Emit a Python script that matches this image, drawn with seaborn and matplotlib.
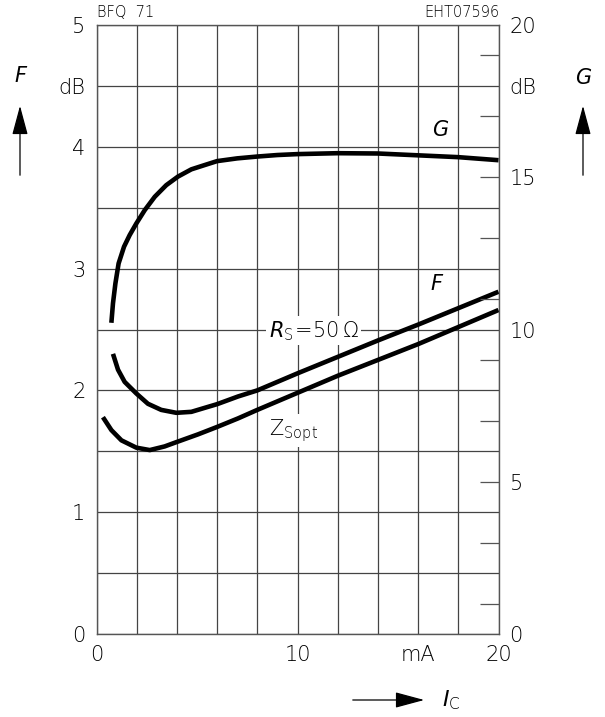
import numpy as np
import pandas as pd
import matplotlib
matplotlib.use('Agg')
import matplotlib.pyplot as plt
from matplotlib.patches import FancyArrowPatch
import seaborn as sns

# Values (BFQ 71)
ic_g = [0.74, 0.82, 0.94, 1.10, 1.37, 1.65, 1.98, 2.40, 2.90, 3.47, 4.05, 4.72, 5.38,
        6.0, 7.0, 8.0, 9.0, 10.0, 12.0, 14.0, 16.0, 18.0, 20.0]
gain = [10.22, 10.86, 11.51, 12.17, 12.72, 13.1, 13.48, 13.92, 14.36, 14.74, 15.02, 15.26, 15.40,
        15.53, 15.62, 15.68, 15.73, 15.76, 15.79, 15.78, 15.72, 15.66, 15.56]

ic_rs = [0.82, 1.07, 1.40, 1.98, 2.56, 3.22, 3.97, 4.72, 5.55, 6.0, 7.04, 8.0, 10.0,
         12.0, 14.0, 16.0, 18.0, 20.0]
nf_rs = [2.30, 2.17, 2.07, 1.975, 1.89, 1.84, 1.816, 1.824, 1.865, 1.887, 1.95, 2.0, 2.14,
         2.275, 2.41, 2.54, 2.675, 2.81]

ic_zs = [0.32, 0.74, 1.24, 1.98, 2.65, 3.39, 3.97, 5.05, 6.0, 7.04, 8.0, 10.0,
         12.0, 14.0, 16.0, 18.0, 20.0]
nf_zs = [1.78, 1.674, 1.59, 1.53, 1.51, 1.54, 1.575, 1.639, 1.70, 1.77, 1.84, 1.98,
         2.12, 2.25, 2.38, 2.52, 2.66]

x_ticks = list(range(0, 21, 2))
x_labels = ['0', '', '', '', '', '10', '', '', 'mA', '', '20']
f_ticks = list(np.arange(0, 5.01, 0.5))
f_labels = ['0', '', '1', '', '2', '', '3', '', '4', 'dB', '5']
g_ticks = [0, 5, 10, 15, 18, 20]
g_labels = ['0', '5', '10', '15', 'dB', '20']
g_marks = list(range(1, 20, 2))

df_f = pd.concat([
    pd.DataFrame({'Ic': ic_rs, 'F': nf_rs, 'curve': 'Rs'}),
    pd.DataFrame({'Ic': ic_zs, 'F': nf_zs, 'curve': 'Zs'}),
])
df_g = pd.DataFrame({'Ic': ic_g, 'G': gain})

sns.set_style('white')
plt.rcParams['font.family'] = ['DejaVu Sans']
plt.rcParams['font.weight'] = 'light'
plt.rcParams['text.color'] = 'black'
plt.rcParams['mathtext.fontset'] = 'dejavusans'

fig = plt.figure(figsize=(6.05, 7.17), dpi=100)
ax = fig.add_axes([96.5 / 605, 1 - 634 / 717, 402 / 605, 609 / 717])

sns.lineplot(data=df_f, x='Ic', y='F', units='curve', estimator=None,
             color='black', lw=3.3, ax=ax, solid_capstyle='butt', solid_joinstyle='round')
ax.set_xlim(0, 20)
ax.set_ylim(0, 5)
ax.set_xticks(x_ticks, labels=x_labels)
ax.set_yticks(f_ticks, labels=f_labels)
ax.tick_params(length=0, labelsize=15, colors='black', pad=8)
ax.grid(True, color='#444444', lw=0.9)
ax.set_axisbelow(True)
ax.set_xlabel('')
ax.set_ylabel('')
for s in ax.spines.values():
    s.set_color('#555555')
    s.set_linewidth(1.0)

ax2 = ax.twinx()
sns.lineplot(data=df_g, x='Ic', y='G', color='black', lw=3.3, ax=ax2,
             solid_capstyle='butt', solid_joinstyle='round')
ax2.set_ylim(0, 20)
ax2.set_ylabel('')
ax2.yaxis.remove_overlapping_locs = False
ax2.set_yticks(g_marks, labels=[''] * len(g_marks))
ax2.set_yticks(g_ticks, labels=g_labels, minor=True)
ax2.tick_params(axis='y', which='major', direction='in', length=14,
                width=0.9, color='#555555')
ax2.tick_params(axis='y', which='minor', length=0, labelsize=15,
                colors='black', pad=8)
ax2.grid(False)
for s in ax2.spines.values():
    s.set_visible(False)

# curve labels
ax2.text(17.1, 16.55, 'G', style='italic', fontsize=15, ha='center', va='center')
ax.text(16.9, 2.87, 'F', style='italic', fontsize=15, ha='center', va='center')
ax.text(10.8, 2.49, r'$R_\mathrm{S}\!=\!50\,\Omega$', fontsize=15,
        ha='center', va='center',
        bbox=dict(facecolor='white', edgecolor='none', pad=2))
ax.text(9.8, 1.67, r'$\mathrm{Z}_\mathrm{Sopt}$', fontsize=15,
        ha='center', va='center',
        bbox=dict(facecolor='white', edgecolor='none', pad=2))

# header texts
fig.text(97 / 605, 1 - 12.5 / 717, 'BFQ  71', fontsize=10.5, ha='left', va='center')
fig.text(500 / 605, 1 - 12.5 / 717, 'EHT07596', fontsize=10.5, ha='right', va='center')

# axis symbols with arrows
fig.text(20 / 605, 1 - 76 / 717, 'F', style='italic', fontsize=15, ha='center', va='center')
fig.text(583 / 605, 1 - 78 / 717, 'G', style='italic', fontsize=15, ha='center', va='center')
arrow_style = '-|>,head_length=1.3,head_width=0.35'
for xp in (20, 583):
    fig.add_artist(FancyArrowPatch(
        (xp / 605, 1 - 178 / 717), (xp / 605, 1 - 103 / 717),
        transform=fig.transFigure, mutation_scale=14,
        arrowstyle=arrow_style, color='black', lw=0.9))
fig.add_artist(FancyArrowPatch(
    (350 / 605, 1 - 700 / 717), (427 / 605, 1 - 700 / 717),
    transform=fig.transFigure, mutation_scale=14,
    arrowstyle=arrow_style, color='black', lw=0.9))
fig.text(442 / 605, 1 - 700 / 717, r'$I_\mathrm{C}$', fontsize=16, ha='left', va='center')

fig.savefig('out.png', dpi=100)
